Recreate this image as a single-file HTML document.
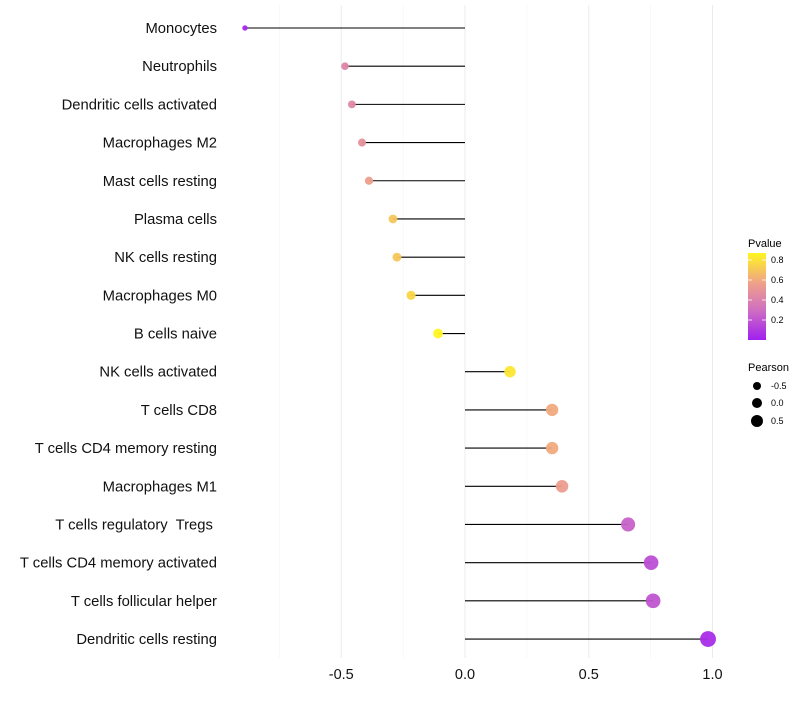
<!DOCTYPE html>
<html><head><meta charset="utf-8"><style>
body{margin:0;background:#fff;font-family:"Liberation Sans",Arial,sans-serif;}
text{white-space:pre;}
</style></head><body>
<svg id="c" width="800" height="700" xmlns="http://www.w3.org/2000/svg">
<defs><linearGradient id="pg" x1="0" y1="1" x2="0" y2="0">
<stop offset="0" stop-color="#A020F0"/><stop offset="0.35" stop-color="#D070C0"/><stop offset="0.65" stop-color="#EFA08A"/><stop offset="1" stop-color="#FFF520"/>
</linearGradient></defs>
<g id="grid"></g><g id="marks"></g><g id="labels"></g>
<g font-size="10" fill="#000">
<text x="748" y="247" font-size="11">Pvalue</text>
<rect x="748" y="253" width="18" height="87" fill="url(#pg)"/>
<g stroke="#fff" stroke-width="0.8"><line x1="748" y1="260" x2="752" y2="260"/><line x1="762" y1="260" x2="766" y2="260"/><line x1="748" y1="280" x2="752" y2="280"/><line x1="762" y1="280" x2="766" y2="280"/><line x1="748" y1="300" x2="752" y2="300"/><line x1="762" y1="300" x2="766" y2="300"/><line x1="748" y1="320" x2="752" y2="320"/><line x1="762" y1="320" x2="766" y2="320"/></g>
<g font-size="9"><text x="771" y="263">0.8</text><text x="771" y="283">0.6</text><text x="771" y="303">0.4</text><text x="771" y="323">0.2</text></g>
<text x="748" y="371" font-size="11">Pearson</text>
<circle cx="757" cy="386" r="4" fill="#000"/><circle cx="757" cy="403" r="5" fill="#000"/><circle cx="757" cy="421" r="6" fill="#000"/>
<g font-size="9"><text x="771" y="389">-0.5</text><text x="771" y="406">0.0</text><text x="771" y="424">0.5</text></g>
</g>
</svg>
<script>
const categories=["Monocytes","Neutrophils","Dendritic cells activated","Macrophages M2","Mast cells resting","Plasma cells","NK cells resting","Macrophages M0","B cells naive","NK cells activated","T cells CD8","T cells CD4 memory resting","Macrophages M1","T cells regulatory  Tregs ","T cells CD4 memory activated","T cells follicular helper","Dendritic cells resting"];
const pearson=[-0.889,-0.485,-0.457,-0.416,-0.388,-0.291,-0.275,-0.218,-0.109,0.182,0.352,0.352,0.392,0.659,0.752,0.76,0.982];
const pvalues=[0.03,0.42,0.43,0.48,0.56,0.7,0.7,0.76,0.88,0.82,0.6,0.6,0.55,0.25,0.18,0.2,0.05];
const xTicks=[-0.5,0,0.5,1.0];
const xTickLabels=["-0.5","0.0","0.5","1.0"];
const NS="http://www.w3.org/2000/svg";
const x=v=>465+v*247.5;
const y=i=>28+i*38.19;
const rr=v=>Math.max(1.8,5.2+2.8*v);
const stops=[[0,[160,32,240]],[0.35,[208,112,192]],[0.65,[239,160,138]],[1,[255,245,32]]];
function col(p){let t=Math.min(1,Math.max(0,p/0.87));for(let k=1;k<stops.length;k++){if(t<=stops[k][0]){const a=stops[k-1],b=stops[k],f=(t-a[0])/(b[0]-a[0]);return 'rgb('+a[1].map((c,j)=>Math.round(c+(b[1][j]-c)*f)).join(',')+')';}}return 'rgb(255,245,32)';}
function mk(tag,attrs,parent){const e=document.createElementNS(NS,tag);for(const k in attrs)e.setAttribute(k,attrs[k]);parent.appendChild(e);return e;}
const grid=document.getElementById('grid'),marks=document.getElementById('marks'),labels=document.getElementById('labels');
for(let v=-0.75;v<=1.01;v+=0.25){const major=Math.abs(v*2-Math.round(v*2))<0.01;const g=mk('line',{x1:x(v),x2:x(v),y1:5,y2:658,stroke:major?'#ebebeb':'#f3f3f3','stroke-width':major?1:0.6},grid);

}
xTicks.forEach((v,i)=>{const t=mk('text',{x:x(v),y:679,'text-anchor':'middle','font-size':14.5,fill:'#111'},labels);t.textContent=xTickLabels[i];

});
categories.forEach((c,i)=>{const t=mk('text',{x:217,y:y(i)+5,'text-anchor':'end','font-size':14.8,fill:'#111'},labels);t.textContent=c;


const l=mk('line',{x1:x(0),x2:x(pearson[i]),y1:y(i),y2:y(i),stroke:'#000','stroke-width':1.1},marks);


const p=mk('circle',{cx:x(pearson[i]),cy:y(i),r:rr(pearson[i]),fill:col(pvalues[i]),'fill-opacity':0.95},marks);

});
</script>
</body></html>
